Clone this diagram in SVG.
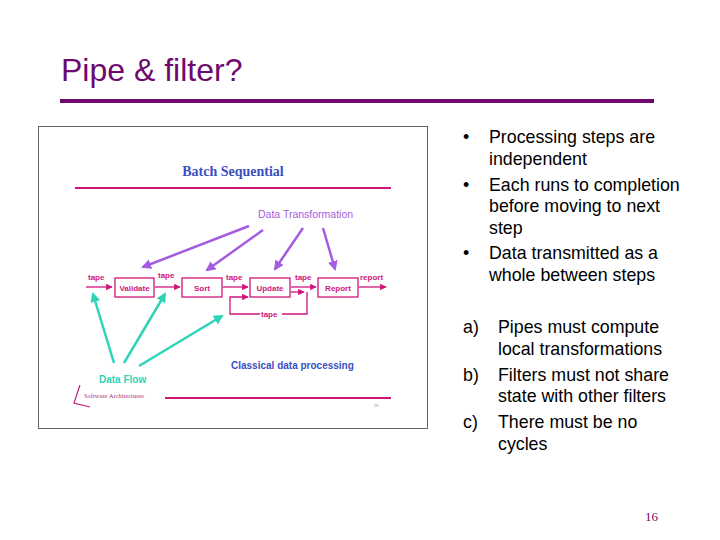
<svg xmlns="http://www.w3.org/2000/svg" width="720" height="540" viewBox="0 0 720 540">
<style>
text{font-family:"Liberation Sans",Arial,sans-serif}
.b{font-size:17.8px;fill:#000}
.pk{stroke:#d0157a;fill:none;stroke-width:1.3}
.pt{font-size:8px;font-weight:bold;fill:#d0157a}
.bx{fill:#fff;stroke:#d0157a;stroke-width:1.3}
.pu{stroke:#a45de0;stroke-width:2.5;fill:none}
.cy{stroke:#2fd3b8;stroke-width:2.5;fill:none}
</style>
<defs>
<marker id="ap" viewBox="0 0 10 10" refX="9" refY="5" markerWidth="5" markerHeight="5" orient="auto"><path d="M0,0L10,5L0,10z" fill="#d0157a"/></marker>
<marker id="au" viewBox="0 0 10 10" refX="8" refY="5" markerWidth="4" markerHeight="4" orient="auto"><path d="M0,0L10,5L0,10z" fill="#a45de0"/></marker>
<marker id="ac" viewBox="0 0 10 10" refX="8" refY="5" markerWidth="4" markerHeight="4" orient="auto"><path d="M0,0L10,5L0,10z" fill="#2fd3b8"/></marker>
</defs>
<rect width="720" height="540" fill="#fff"/>
<text x="61" y="81" font-size="32" fill="#6e0a6e">Pipe &amp; filter?</text>
<rect x="60" y="99" width="594" height="4" fill="#6e0a6e"/>
<rect x="38.5" y="126.5" width="389" height="302" fill="#fff" stroke="#6b5e70"/>
<text x="233" y="176" font-size="14" font-weight="bold" fill="#3a4fc0" text-anchor="middle" style="font-family:'Liberation Serif',serif">Batch Sequential</text>
<rect x="75" y="187" width="316" height="2" fill="#d0157a"/>
<text x="258" y="218" font-size="10.5" fill="#a45de0">Data Transformation</text>
<g id="connectors">
<path class="pk" d="M86,287H112" marker-end="url(#ap)"/>
<path class="pk" d="M155,287H180" marker-end="url(#ap)"/>
<path class="pk" d="M223,287H248" marker-end="url(#ap)"/>
<path class="pk" d="M291,287H316" marker-end="url(#ap)"/>
<path class="pk" d="M359,287H386" marker-end="url(#ap)"/>
<path class="pk" d="M291,292H304" marker-end="url(#ap)"/>
<path class="pk" d="M307,292V314H230V297H248" marker-end="url(#ap)"/>
<path class="pu" d="M249,226L143,267" marker-end="url(#au)"/>
<path class="pu" d="M263,230L207,270" marker-end="url(#au)"/>
<path class="pu" d="M303,228L275,269" marker-end="url(#au)"/>
<path class="pu" d="M323,228L335,269" marker-end="url(#au)"/>
<path class="cy" d="M114,363L93,294" marker-end="url(#ac)"/>
<path class="cy" d="M124,363L165,294" marker-end="url(#ac)"/>
<path class="cy" d="M139,366L222,316" marker-end="url(#ac)"/>
</g>
<text x="88" y="280" class="pt">tape</text>
<text x="158" y="278" class="pt">tape</text>
<text x="226" y="280" class="pt">tape</text>
<text x="295" y="280" class="pt">tape</text>
<text x="360" y="280" class="pt">report</text>
<rect x="260" y="309" width="22" height="10" fill="#fff"/>
<text x="261" y="317" class="pt">tape</text>
<g id="validate"><rect class="bx" x="115" y="278" width="39" height="19"/><text x="134.5" y="291" class="pt" text-anchor="middle">Validate</text></g>
<g id="sort"><rect class="bx" x="182" y="278" width="40" height="19"/><text x="202" y="291" class="pt" text-anchor="middle">Sort</text></g>
<g id="update"><rect class="bx" x="250" y="278" width="40" height="19"/><text x="270" y="291" class="pt" text-anchor="middle">Update</text></g>
<g id="report"><rect class="bx" x="318" y="278" width="40" height="19"/><text x="338" y="291" class="pt" text-anchor="middle">Report</text></g>
<text x="231" y="369" font-size="10" font-weight="bold" fill="#3a4fc0">Classical data processing</text>
<text x="99" y="383" font-size="10" font-weight="bold" fill="#2fd3b8">Data Flow</text>
<path d="M80,385L74,403L90,407" fill="none" stroke="#c0207a" stroke-width="1.2"/>
<text x="84" y="398" font-size="6.5" fill="#b0306a" style="font-family:'Liberation Serif',serif">Software Architectures</text>
<rect x="165" y="397" width="226" height="2" fill="#d0157a"/>
<text x="374" y="407" font-size="4" fill="#888">29</text>
<text x="463" y="143" class="b">•</text><text x="489" y="143" class="b">Processing steps are</text>
<text x="489" y="165" class="b">independent</text>
<text x="463" y="191" class="b">•</text><text x="489" y="191" class="b">Each runs to completion</text>
<text x="489" y="212" class="b">before moving to next</text>
<text x="489" y="234" class="b">step</text>
<text x="463" y="259" class="b">•</text><text x="489" y="259" class="b">Data transmitted as a</text>
<text x="489" y="281" class="b">whole between steps</text>
<text x="463" y="333" class="b">a)</text><text x="498" y="333" class="b">Pipes must compute</text>
<text x="498" y="355" class="b">local transformations</text>
<text x="463" y="381" class="b">b)</text><text x="498" y="381" class="b">Filters must not share</text>
<text x="498" y="402" class="b">state with other filters</text>
<text x="463" y="428" class="b">c)</text><text x="498" y="428" class="b">There must be no</text>
<text x="498" y="450" class="b">cycles</text>
<text x="645" y="521" font-size="13" fill="#6e0a6e" style="font-family:'Liberation Serif',serif">16</text>
</svg>
